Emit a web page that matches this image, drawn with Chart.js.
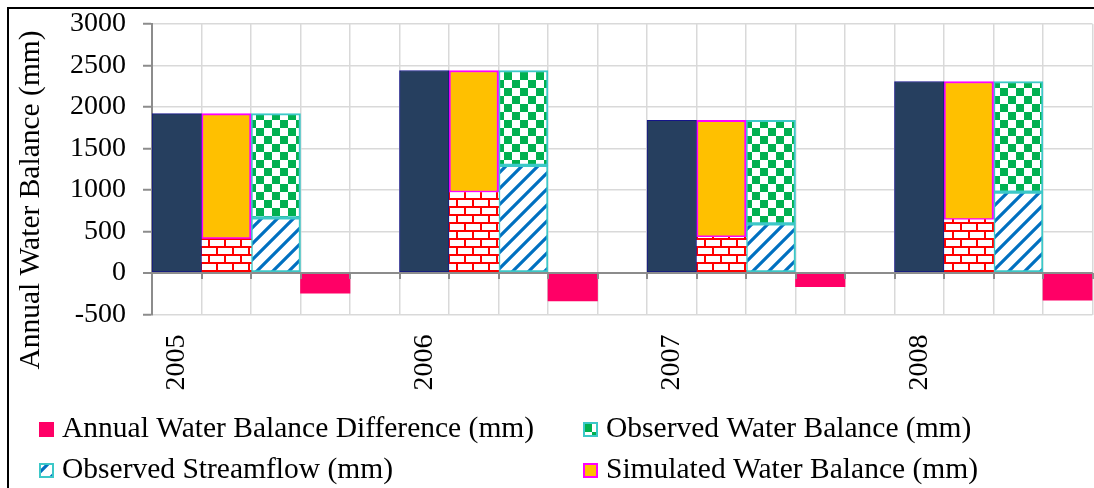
<!DOCTYPE html>
<html>
<head>
<meta charset="utf-8">
<title>Annual Water Balance</title>
<script src="https://cdn.jsdelivr.net/npm/chart.js@4/dist/chart.umd.min.js"></script>
<style>
  html, body { margin: 0; padding: 0; background: #ffffff; }
  #wrap { position: relative; width: 1094px; height: 488px; }
</style>
</head>
<body>
<div id="wrap"><canvas id="chart"></canvas></div>
<script>
// ---- data (mm) ----
const years = ['2005', '2006', '2007', '2008'];
const annualTotal = [1920, 2440, 1839, 2307];          // dark blue column
const simulatedRunoff = [410, 970, 431, 640];          // brick segment
const simulatedBalance = [1510, 1470, 1408, 1667];     // orange segment on top of brick
const observedStreamflow = [664, 1296, 592, 975];      // striped segment
const observedBalance = [1256, 1144, 1247, 1332];      // checker segment on top of stripes
const balanceDifference = [-242, -335, -165, -326];    // pink column

const yMin = -500, yMax = 3000, yStep = 500;
const yTitle = 'Annual Water Balance (mm)';
const legendLabels = [
  'Annual Water Balance Difference (mm)',
  'Observed Water Balance (mm)',
  'Observed Streamflow (mm)',
  'Simulated Water Balance (mm)'
];

// each year occupies five slots: total, simulated, observed, difference, gap
const SLOTS_PER_YEAR = 5;
const slotCount = years.length * SLOTS_PER_YEAR - 1;
const slotLabels = Array.from({ length: slotCount }, (_, i) =>
  i % SLOTS_PER_YEAR === 0 ? years[i / SLOTS_PER_YEAR] : '');

function placeInSlot(values, offset) {
  const out = new Array(slotCount).fill(null);
  values.forEach((v, i) => { out[i * SLOTS_PER_YEAR + offset] = v; });
  return out;
}

// ---- fill patterns ----
function makeTile(size, paint) {
  const c = document.createElement('canvas');
  c.width = size; c.height = size;
  const g = c.getContext('2d');
  g.fillStyle = '#ffffff';
  g.fillRect(0, 0, size, size);
  paint(g);
  return document.createElement('canvas').getContext('2d').createPattern(c, 'repeat');
}

const brickPattern = makeTile(16, g => {
  g.fillStyle = '#ff0000';
  g.fillRect(0, 6, 16, 2);
  g.fillRect(0, 14, 16, 2);
  g.fillRect(0, 0, 2, 6);
  g.fillRect(8, 8, 2, 6);
});

const checkerPattern = makeTile(16, g => {
  g.fillStyle = '#00b050';
  g.fillRect(0, 0, 8, 8);
  g.fillRect(8, 8, 8, 8);
});

const stripePattern = makeTile(16, g => {
  g.strokeStyle = '#0070c0';
  g.lineWidth = 3.2;
  g.lineCap = 'square';
  g.beginPath();
  g.moveTo(-2, 18); g.lineTo(18, -2);
  g.moveTo(-2, 2); g.lineTo(2, -2);
  g.moveTo(14, 18); g.lineTo(18, 14);
  g.stroke();
});

const COLORS = {
  navy: '#263f5f',
  navyEdge: '#14148a',
  orange: '#ffc000',
  magenta: '#ff00ff',
  cyan: '#3cc8c8',
  pink: '#ff0066',
  grid: '#d9d9d9',
  axis: '#8c8c8c'
};

const FONT = '"Liberation Serif", "Times New Roman", serif';

// ---- extra drawing: frame, zero axis, title, legend ----
const decor = {
  id: 'decor',
  beforeDraw(chart) {
    const ctx = chart.ctx;
    ctx.save();
    ctx.fillStyle = '#ffffff';
    ctx.fillRect(0, 0, chart.width, chart.height);
    ctx.restore();
  },
  afterDatasetsDraw(chart) {
    const ctx = chart.ctx;
    const x = chart.scales.x, y = chart.scales.y;
    const y0 = y.getPixelForValue(0);
    ctx.save();
    ctx.strokeStyle = COLORS.axis;
    ctx.lineWidth = 2;
    ctx.beginPath();
    ctx.moveTo(chart.chartArea.left, y0);
    ctx.lineTo(chart.chartArea.right, y0);
    for (let i = 0; i <= slotCount; i++) {
      const px = Math.round(x.getPixelForValue(i - 0.5));
      ctx.moveTo(px, y0);
      ctx.lineTo(px, y0 + 6);
    }
    ctx.stroke();
    ctx.restore();
  },
  afterDraw(chart) {
    const ctx = chart.ctx;
    ctx.save();
    // outer frame
    ctx.strokeStyle = '#000000';
    ctx.lineWidth = 2;
    ctx.beginPath();
    ctx.moveTo(8, chart.height + 2);
    ctx.lineTo(8, 8);
    ctx.lineTo(chart.width + 2, 8);
    ctx.stroke();

    // y axis title
    ctx.fillStyle = '#000000';
    ctx.font = '29.5px ' + FONT;
    ctx.textAlign = 'center';
    ctx.textBaseline = 'middle';
    ctx.save();
    ctx.translate(31, 200);
    ctx.rotate(-Math.PI / 2);
    ctx.fillText(yTitle, 0, 0);
    ctx.restore();

    // legend
    const entries = [
      { text: legendLabels[0], x: 39, y: 422, fill: COLORS.pink, edge: null },
      { text: legendLabels[1], x: 583, y: 422, fill: checkerPattern, edge: COLORS.cyan },
      { text: legendLabels[2], x: 39, y: 463, fill: stripePattern, edge: COLORS.cyan },
      { text: legendLabels[3], x: 583, y: 463, fill: COLORS.orange, edge: COLORS.magenta }
    ];
    ctx.textAlign = 'left';
    ctx.textBaseline = 'alphabetic';
    entries.forEach(e => {
      ctx.fillStyle = e.fill;
      ctx.fillRect(e.x, e.y, 15, 15);
      if (e.edge) {
        ctx.strokeStyle = e.edge;
        ctx.lineWidth = 2;
        ctx.strokeRect(e.x + 1, e.y + 1, 13, 13);
      }
      ctx.fillStyle = '#000000';
      ctx.fillText(e.text, e.x + 23, e.y + 15);
    });
    ctx.restore();
  }
};

const common = { stack: 'all', borderSkipped: false, barPercentage: 1, categoryPercentage: 1 };

new Chart(document.getElementById('chart'), {
  type: 'bar',
  data: {
    labels: slotLabels,
    datasets: [
      Object.assign({ label: 'Annual Total (mm)', data: placeInSlot(annualTotal, 0),
        backgroundColor: COLORS.navy, borderColor: COLORS.navyEdge, borderWidth: 1 }, common),
      Object.assign({ label: 'Simulated Runoff (mm)', data: placeInSlot(simulatedRunoff, 1),
        backgroundColor: brickPattern, borderWidth: 0 }, common),
      Object.assign({ label: legendLabels[3], data: placeInSlot(simulatedBalance, 1),
        backgroundColor: COLORS.orange, borderColor: COLORS.magenta, borderWidth: 2 }, common),
      Object.assign({ label: legendLabels[2], data: placeInSlot(observedStreamflow, 2),
        backgroundColor: stripePattern, borderColor: COLORS.cyan, borderWidth: 2 }, common),
      Object.assign({ label: legendLabels[1], data: placeInSlot(observedBalance, 2),
        backgroundColor: checkerPattern, borderColor: COLORS.cyan, borderWidth: 2 }, common),
      Object.assign({ label: legendLabels[0], data: placeInSlot(balanceDifference, 3),
        backgroundColor: COLORS.pink, borderWidth: 0 }, common)
    ]
  },
  options: {
    responsive: true,
    maintainAspectRatio: false,
    animation: false,
    layout: { padding: { top: 24, right: 1.5, bottom: 0, left: 0 } },
    plugins: { legend: { display: false }, tooltip: { enabled: false } },
    scales: {
      x: {
        stacked: true,
        offset: true,
        grid: { color: COLORS.grid, lineWidth: 1.5, offset: true, drawTicks: false },
        border: { display: false },
        ticks: {
          autoSkip: false, minRotation: 90, maxRotation: 90, padding: 20,
          color: '#000000', font: { family: FONT, size: 28 }
        },
        afterFit(scale) {
          scale.height = 173.5;
          scale.paddingLeft = 0;
          scale.paddingRight = 0;
        }
      },
      y: {
        stacked: true,
        min: yMin, max: yMax,
        grid: {
          color: ctx => (ctx.tick && ctx.tick.value === 0 ? COLORS.axis : COLORS.grid),
          lineWidth: ctx => (ctx.tick && ctx.tick.value === 0 ? 2 : 1.5),
          tickColor: COLORS.axis, tickLength: 9, tickWidth: 2
        },
        border: { display: true, color: COLORS.axis, width: 2 },
        ticks: {
          stepSize: yStep, padding: 17, color: '#000000',
          font: { family: FONT, size: 28 },
          callback: v => String(v)
        },
        afterFit(scale) {
          scale.width = 152;
          scale.paddingTop = 0;
          scale.paddingBottom = 0;
        }
      }
    }
  },
  plugins: [decor]
});
</script>
</body>
</html>
